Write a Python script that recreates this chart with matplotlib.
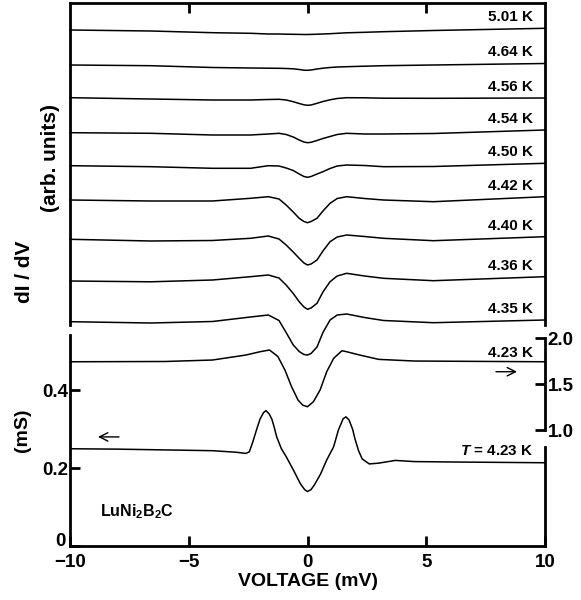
import numpy as np
import matplotlib
matplotlib.use('Agg')
import matplotlib.pyplot as plt

plt.rcParams['font.family'] = ['Liberation Sans', 'DejaVu Sans']
plt.rcParams['font.weight'] = 'bold'
plt.rcParams['axes.labelweight'] = 'bold'
plt.rcParams['mathtext.fontset'] = 'custom'
plt.rcParams['mathtext.rm'] = 'Liberation Sans:bold'
plt.rcParams['mathtext.bf'] = 'Liberation Sans:bold'
plt.rcParams['mathtext.it'] = 'Liberation Sans:bold:italic'

# ---- data ----
# upper panel: dI/dV (arb. units), curves already offset
v_top = [-10, -6.6, -4, -2.4, -1.65, -1.2, -0.9, -0.6, -0.35, -0.15, 0,
         0.15, 0.4, 0.65, 0.95, 1.25, 1.65, 2.4, 3.2, 5.3, 10]
temps_top = ['5.01 K', '4.64 K', '4.56 K', '4.54 K', '4.50 K',
             '4.42 K', '4.40 K', '4.36 K', '4.35 K']
didv_501 = [29.5, 29.4, 29.23, 29.17, 29.1, 29.1, 29.08, 29.07, 29.06, 29.05, 29.05,
            29.06, 29.08, 29.1, 29.13, 29.17, 29.22, 29.27, 29.33, 29.45, 29.67]
didv_464 = [26.0, 25.93, 25.75, 25.7, 25.68, 25.67, 25.65, 25.62, 25.55, 25.48, 25.47,
            25.5, 25.6, 25.68, 25.75, 25.8, 25.83, 25.88, 25.93, 26.0, 26.15]
didv_456 = [22.73, 22.6, 22.5, 22.5, 22.55, 22.57, 22.5, 22.33, 22.15, 22.02, 21.97,
            22.0, 22.17, 22.35, 22.52, 22.65, 22.73, 22.72, 22.68, 22.67, 22.7]
didv_454 = [19.23, 19.17, 19.0, 19.0, 19.1, 19.17, 19.05, 18.8, 18.5, 18.3, 18.23,
            18.27, 18.45, 18.65, 18.85, 19.05, 19.17, 19.1, 19.1, 19.15, 19.5]
didv_450 = [15.93, 15.83, 15.67, 15.67, 15.93, 15.9, 15.7, 15.45, 15.1, 14.85, 14.77,
            14.85, 15.1, 15.33, 15.65, 15.9, 16.0, 15.95, 15.83, 15.85, 16.17]
didv_442 = [12.5, 12.4, 12.4, 12.67, 12.83, 12.6, 12.0, 11.3, 10.67, 10.35, 10.23,
            10.35, 10.67, 11.4, 12.17, 12.65, 12.83, 12.65, 12.5, 12.33, 12.83]
didv_440 = [8.57, 8.4, 8.45, 8.67, 8.9, 8.6, 8.0, 7.3, 6.67, 6.2, 6.0,
            6.1, 6.5, 7.4, 8.33, 8.8, 9.0, 8.85, 8.67, 8.43, 8.83]
didv_436 = [4.4, 4.32, 4.5, 4.83, 5.0, 4.7, 4.0, 3.15, 2.33, 1.8, 1.57,
            1.7, 2.17, 3.3, 4.33, 4.9, 5.17, 4.9, 4.67, 4.43, 4.83]
didv_435 = [0.33, 0.2, 0.35, 0.8, 1.0, 0.45, -0.75, -2.0, -2.65, -2.95, -3.0,
            -2.85, -2.2, -0.75, 0.5, 1.0, 1.1, 0.75, 0.45, 0.23, 0.5]
curves_top = [didv_501, didv_464, didv_456, didv_454, didv_450,
              didv_442, didv_440, didv_436, didv_435]

# lower panel, right axis: 4.23 K normalised curve
v_423a = [-10, -6, -4, -2.6, -2.0, -1.6, -1.25, -0.95, -0.67, -0.4, -0.2, 0,
          0.25, 0.53, 0.81, 1.1, 1.45, 1.65, 2.2, 3.0, 4.5, 10]
g_423a = [1.742, 1.745, 1.761, 1.815, 1.851, 1.870, 1.80, 1.652, 1.471, 1.326, 1.27, 1.253,
          1.308, 1.435, 1.634, 1.779, 1.862, 1.851, 1.815, 1.768, 1.750, 1.742]

# lower panel, left axis: conductance in mS at T = 4.23 K
v_423b = [-10, -8, -6, -4, -3, -2.6, -2.45, -2.3, -2.15, -2.0, -1.85, -1.75, -1.62,
          -1.5, -1.4, -1.3, -1.1, -0.9, -0.6, -0.3, -0.12, 0, 0.15, 0.3, 0.55, 0.8,
          1.1, 1.3, 1.5, 1.62, 1.75, 1.9, 2.0, 2.15, 2.3, 2.6, 3.0, 3.7, 4.5, 6, 8, 10]
g_423b = [0.250, 0.249, 0.247, 0.245, 0.241, 0.238, 0.242, 0.268, 0.298, 0.326, 0.343, 0.348, 0.340,
          0.326, 0.305, 0.281, 0.250, 0.230, 0.196, 0.160, 0.145, 0.140, 0.145, 0.158, 0.185, 0.220,
          0.255, 0.298, 0.327, 0.332, 0.324, 0.300, 0.275, 0.245, 0.224, 0.211, 0.213, 0.220, 0.217,
          0.216, 0.215, 0.214]

# ---- layout ----
W, H = 581, 600
def box(l, t, r, b):
    return [l / W, 1 - b / H, (r - l) / W, (b - t) / H]

fig = plt.figure(figsize=(W / 100, H / 100), dpi=100)
ax1 = fig.add_axes(box(70, 3, 545, 325))
ax2 = fig.add_axes(box(70, 335, 545, 546))
ax3 = ax2.twinx()
ax2.patch.set_visible(False)
ax3.patch.set_visible(False)

spw = 2.0
lw = 1.1

# top panel
for vals, lab in zip(curves_top, temps_top):
    ax1.plot(v_top, vals, color='black', lw=lw, clip_on=False)
    ax1.text(9.5, vals[-1] + 1.1, lab, ha='right', va='center', fontsize=11)
ax1.set_xlim(-10, 10)
ax1.set_ylim(0, 32.2)
ax1.spines['bottom'].set_visible(False)
for s in ['top', 'left', 'right']:
    ax1.spines[s].set_linewidth(spw)
ax1.set_xticks([-5, 0, 5])
ax1.tick_params(axis='x', bottom=False, top=True, labelbottom=False,
                direction='in', length=7, width=spw)
ax1.set_yticks([])

# bottom panel
ax2.plot(v_423b, g_423b, color='black', lw=lw)
ax2.set_xlim(-10, 10)
ax2.set_ylim(0, 0.5424)
ax2.spines['top'].set_visible(False)
ax2.spines['right'].set_bounds(0, 0.254)
for s in ['bottom', 'left', 'right']:
    ax2.spines[s].set_linewidth(spw)
ax2.set_xticks([-10, -5, 0, 5, 10])
ax2.set_yticks([0, 0.2, 0.4])
ax2.set_yticklabels(['', '0.2', '0.4'])
ax2.tick_params(direction='in', length=7, width=spw, labelsize=13.5)
ax2.tick_params(axis='x', pad=6)
ax2.tick_params(axis='y', right=False, pad=1)
# the zero label sits a little higher, just clear of the -10 label
ax2.annotate('0', xy=(0, 0), xycoords='axes fraction', xytext=(-3.5, 3),
             textcoords='offset points', ha='right', va='center', fontsize=13.5)
ax2.set_xlabel('VOLTAGE (mV)', fontsize=14, fontweight='bold', labelpad=1)
ax2.text(9.5, g_423b[-1] + 0.03, r'$\mathit{T}$ = 4.23 K', ha='right', va='center', fontsize=11)
ax2.text(0.063, 0.161, r'LuNi$_\mathbf{2}$B$_\mathbf{2}$C', transform=ax2.transAxes,
         ha='left', va='center', fontsize=11.5)
arrow = dict(arrowstyle='->, head_length=0.6, head_width=0.3', lw=1.0, color='black')
ax2.annotate('', xy=(0.053, 0.517), xytext=(0.109, 0.517), xycoords='axes fraction',
             arrowprops=arrow)

ax3.plot(v_423a, g_423a, color='black', lw=lw)
ax3.set_ylim(-0.261, 2.033)
for s in ['top', 'bottom', 'left']:
    ax3.spines[s].set_visible(False)
ax3.spines['right'].set_bounds(1.0, 2.0)
ax3.spines['right'].set_linewidth(spw)
ax3.set_yticks([1.0, 1.5, 2.0])
ax3.set_yticklabels(['1.0', '1.5', '2.0'])
ax3.tick_params(axis='y', direction='in', length=7, width=spw, labelsize=13.5, pad=2)
ax3.text(9.5, g_423a[-1] + 0.1, '4.23 K', ha='right', va='center', fontsize=11)
ax3.annotate('', xy=(0.947, 0.826), xytext=(0.891, 0.826), xycoords='axes fraction',
             arrowprops=arrow)

# axis titles
fig.text(25 / W, 1 - 272 / H, 'dI / dV', rotation=90, ha='center', va='center', fontsize=15)
fig.text(50 / W, 1 - 158 / H, '(arb. units)', rotation=90, ha='center', va='center', fontsize=15)
fig.text(22 / W, 1 - 430 / H, '(mS)', rotation=90, ha='center', va='center', fontsize=14)

fig.savefig('out.png', dpi=100)
